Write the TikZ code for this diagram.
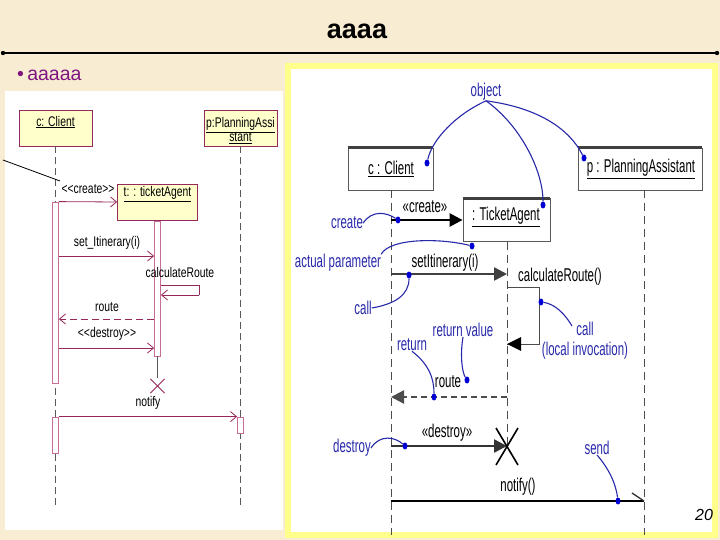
\documentclass[tikz,border=0pt]{standalone}
\usepackage{fontspec}
\setmainfont{Liberation Sans}
\newfontfamily\narrowR[FakeStretch=0.62]{Liberation Sans}
\newfontfamily\narrowL[FakeStretch=0.74]{Liberation Sans}
\usetikzlibrary{arrows.meta,shapes.geometric}
\definecolor{bg}{RGB}{248,237,210}
\definecolor{frameY}{RGB}{255,255,140}
\definecolor{lboxfill}{RGB}{255,255,204}
\definecolor{maroon}{RGB}{150,40,90}
\definecolor{actpink}{RGB}{200,110,150}
\definecolor{navy}{RGB}{40,40,170}
\definecolor{dotblue}{RGB}{0,0,210}
\definecolor{bullet}{RGB}{128,20,128}
\tikzset{
  lbox/.style={draw=maroon, fill=lboxfill, line width=0.8pt, inner sep=0pt},
  ltext/.style={font=\narrowL\fontsize{14}{15}\selectfont, inner sep=0pt, align=center},
  lact/.style={draw=actpink, fill=white, line width=0.8pt, minimum width=6pt, inner sep=0pt},
  lmsg/.style={draw=maroon, line width=0.8pt, -{Straight Barb[length=6pt,width=10pt]}},
  lmsgdash/.style={lmsg, dash pattern=on 7pt off 4pt},
  lifeL/.style={draw=gray!70!black, line width=0.8pt, dash pattern=on 7pt off 4pt},
  rbox/.style={draw=gray!70!black, fill=white, line width=0.8pt, inner sep=0pt},
  rtext/.style={font=\narrowR\fontsize{18.5}{20}\selectfont, inner sep=0pt, align=center},
  btext/.style={rtext, text=navy},
  lifeR/.style={draw=gray!60!black, line width=0.9pt, dash pattern=on 8pt off 5pt},
  rmsg/.style={draw=black!85, line width=2.4pt, -{Triangle[length=13pt,width=13pt]}},
  dotn/.style={ellipse, fill=dotblue, minimum width=5pt, minimum height=7pt, inner sep=0pt},
  note/.style={draw=navy, line width=1.1pt},
}
\begin{document}
\begin{tikzpicture}[x=1pt,y=-1pt]
\useasboundingbox (0,0) rectangle (720,540);
\fill[bg] (0,0) rectangle (720,540);
% title
\node[font=\bfseries\fontsize{27}{30}\selectfont, inner sep=0pt] (title) at (357,31) {aaaa};
\coordinate (tl) at (3,53);
\coordinate (tr) at (717,53);
\draw[line width=1.3pt] (tl) -- (tr);
\fill (tl) circle (2.2);
\fill (tr) circle (2.2);
\node[font=\fontsize{19.5}{21}\selectfont, text=bullet, inner sep=0pt, anchor=west] (sub) at (17,75) {\textbullet\,aaaaa};

% ---------------- left panel ----------------
\fill[white] (5,91) rectangle (283,530);
\node[lbox, minimum width=73pt, minimum height=36pt] (lc) at (55.5,128) {};
\node[ltext] (lct) at (55.5,122) {\underline{c: Client}};
\node[lbox, minimum width=73pt, minimum height=36pt] (lp) at (240.5,128) {};
\node[ltext, text depth=0pt] (lpt) at (240.5,129.5) {\underline{p:PlanningAssi}\\[-1pt]\underline{stant}};
\node[lbox, minimum width=80pt, minimum height=36pt] (lt) at (157.5,202) {};
\node[ltext] (ltt) at (157.5,194) {\underline{t: : ticketAgent}};

\coordinate (lcend) at (55.5,508);
\coordinate (lpend) at (240.5,508);
\draw[lifeL] (lc.south) -- (lcend);
\draw[lifeL] (lp.south) -- (lpend);

\node[lact, minimum height=181pt] (a1) at (55.5,292.5) {};
\node[lact, minimum height=135pt] (a2) at (157.5,288.5) {};
\node[lact, minimum height=36pt] (a3) at (55.5,435) {};
\node[lact, minimum height=16pt] (a4) at (240.5,425) {};

\coordinate (n1) at (3,160);
\coordinate (n2) at (60,181);
\draw[line width=0.8pt] (n1) -- (n2);

\coordinate (y256) at (0,256);
\coordinate (y285) at (0,285);
\coordinate (y295) at (0,295);
\coordinate (y319) at (0,319);
\coordinate (y348) at (0,348);
\coordinate (sr1) at (199,285);
\coordinate (sr2) at (199,295);

\draw[lmsg] (a1.north east) -- (lt.west);
\draw[lmsg] (a1.east |- y256) -- (a2.west |- y256);
\draw[draw=maroon, line width=0.8pt] (a2.east |- y285) -- (sr1) -- (sr2);
\draw[lmsg] (sr2) -- (a2.east |- y295);
\draw[lmsgdash] (a2.west |- y319) -- (a1.east |- y319);
\draw[lmsg] (a1.east |- y348) -- (a2.west |- y348);
\coordinate (tlend) at (157.5,378);
\draw[gray!70!black, line width=0.8pt] (a2.south) -- (tlend);
\node[draw=none, minimum size=14pt, inner sep=0pt] (lx) at (157.5,386) {};
\draw[maroon, line width=0.8pt] (lx.north west) -- (lx.south east) (lx.north east) -- (lx.south west);
\draw[lmsg] (a3.north east) -- (a4.north west);

\node[ltext] (m1) at (88,189) {<<create>>};
\node[ltext] (m2) at (107,243) {set\_Itinerary(i)};
\node[ltext] (m3) at (180,272) {calculateRoute};
\node[ltext] (m4) at (107,307) {route};
\node[ltext] (m5) at (107,334) {<<destroy>>};
\node[ltext] (m6) at (148,403) {notify};

% ---------------- right panel ----------------
\draw[frameY, line width=6pt, fill=white] (288,66) rectangle (715,535);

\node[btext] (obj) at (486,92) {object};

\node[rbox, minimum width=85pt, minimum height=42pt] (rc) at (390.5,169) {};
\draw[gray!50!black, line width=3pt] (rc.north west) -- (rc.north east);
\node[rtext] (rct) at (391,169) {\underline{c : Client}};
\node[rbox, minimum width=124pt, minimum height=42pt] (rp) at (640,169) {};
\draw[gray!50!black, line width=3pt] (rp.north west) -- (rp.north east);
\node[rtext] (rpt) at (641,169) {\underline{p : PlanningAssistant}};
\node[rbox, minimum width=87pt, minimum height=43pt] (rt) at (506.5,220) {};
\draw[gray!50!black, line width=3pt] (rt.north west) -- (rt.north east);
\node[rtext] (rtt) at (506,217) {\underline{: TicketAgent}};

\coordinate (rcl) at (391,190);
\coordinate (rcend) at (391,535);
\coordinate (rpl) at (644,190);
\coordinate (rpend) at (644,535);
\coordinate (rtl) at (507,241.5);
\coordinate (rtend) at (507,446);
\draw[lifeR] (rcl) -- (rcend);
\draw[lifeR] (rpl) -- (rpend);
\draw[lifeR] (rtl) -- (rtend);

\coordinate (cr0) at (391,220);
\draw[rmsg, draw=black] (cr0) -- (rt.west);
\coordinate (si0) at (391,274);
\coordinate (si1) at (507,274);
\draw[rmsg, draw=gray!50!black] (si0) -- (si1);
\coordinate (sc0) at (507,287);
\coordinate (sc1) at (539,287);
\coordinate (sc2) at (539,344);
\coordinate (sc3) at (507,344);
\draw[gray!60!black, line width=1pt] (sc0) -- (sc1) -- (sc2) -- (sc3);
\fill[black] (sc3) -- ++(14,-7) -- ++(0,14) -- cycle;
\coordinate (rt0) at (507,397);
\coordinate (rt1) at (391,397);
\draw[rmsg, draw=gray!60!black, dash pattern=on 6pt off 4pt] (rt0) -- (rt1);
\coordinate (ds0) at (391,446);
\coordinate (ds1) at (507,446);
\draw[rmsg, draw=black!80] (ds0) -- (ds1);
\draw[black, line width=1.6pt] (496,428) -- (518,465) (518,428) -- (496,465);
\coordinate (nf0) at (391,501);
\coordinate (nf1) at (644,501);
\coordinate (nfh) at (632,493);
\draw[black, line width=2pt] (nf0) -- (nf1);
\draw[black!80, line width=1.3pt] (nfh) -- (nf1);

\node[rtext] (l1) at (425,207) {«create»};
\node[rtext] (l2) at (445,263) {setItinerary(i)};
\node[rtext] (l3) at (560,277) {calculateRoute()};
\node[rtext] (l4) at (448,382) {route};
\node[rtext] (l5) at (447,433) {«destroy»};
\node[rtext] (l6) at (518,487) {notify()};

% blue annotations
\node[dotn] (d1) at (427,163) {};
\node[dotn] (d2) at (543,205) {};
\node[dotn] (d3) at (584,158) {};
\node[dotn] (d4) at (398,220) {};
\node[dotn] (d5) at (472,246) {};
\node[dotn] (d6) at (409,275) {};
\node[dotn] (d7) at (541,302) {};
\node[dotn] (d8) at (467,380) {};
\node[dotn] (d9) at (434,397) {};
\node[dotn] (d10) at (405,446) {};
\node[dotn] (d11) at (618,501) {};

\node[btext] (bcreate) at (347,223) {create};
\node[btext] (bap) at (338,263) {actual parameter};
\node[btext] (bcall) at (363,308) {call};
\node[btext] (bcall2) at (585,341) {call\\(local invocation)};
\node[btext] (brv) at (463,330) {return value};
\node[btext] (bret) at (412,345) {return};
\node[btext] (bdes) at (352,448) {destroy};
\node[btext] (bsend) at (597,448) {send};

\draw[note] (obj.south) .. controls (455,115) and (432,140) .. (d1);
\draw[note] (obj.south) .. controls (520,125) and (543,170) .. (d2);
\draw[note] (obj.south) .. controls (540,108) and (570,130) .. (d3);
\draw[note] (bcreate.east) .. controls (372,210) and (386,212) .. (d4);
\draw[note] (bap.north east) .. controls (390,238) and (440,238) .. (d5);
\draw[note] (bcall.east) .. controls (395,304) and (409,295) .. (d6);
\draw[note] (d7) .. controls (555,304) and (565,314) .. (572,326);
\draw[note] (brv.south) .. controls (460,355) and (462,372) .. (d8);
\draw[note] (bret.south) .. controls (430,365) and (434,380) .. (d9);
\draw[note] (bdes.east) .. controls (380,434) and (395,437) .. (d10);
\draw[note] (bsend.south) .. controls (610,470) and (616,485) .. (d11);

\node[font=\itshape\fontsize{16}{18}\selectfont, inner sep=0pt] (pg) at (704,515) {20};
\end{tikzpicture}
\end{document}
